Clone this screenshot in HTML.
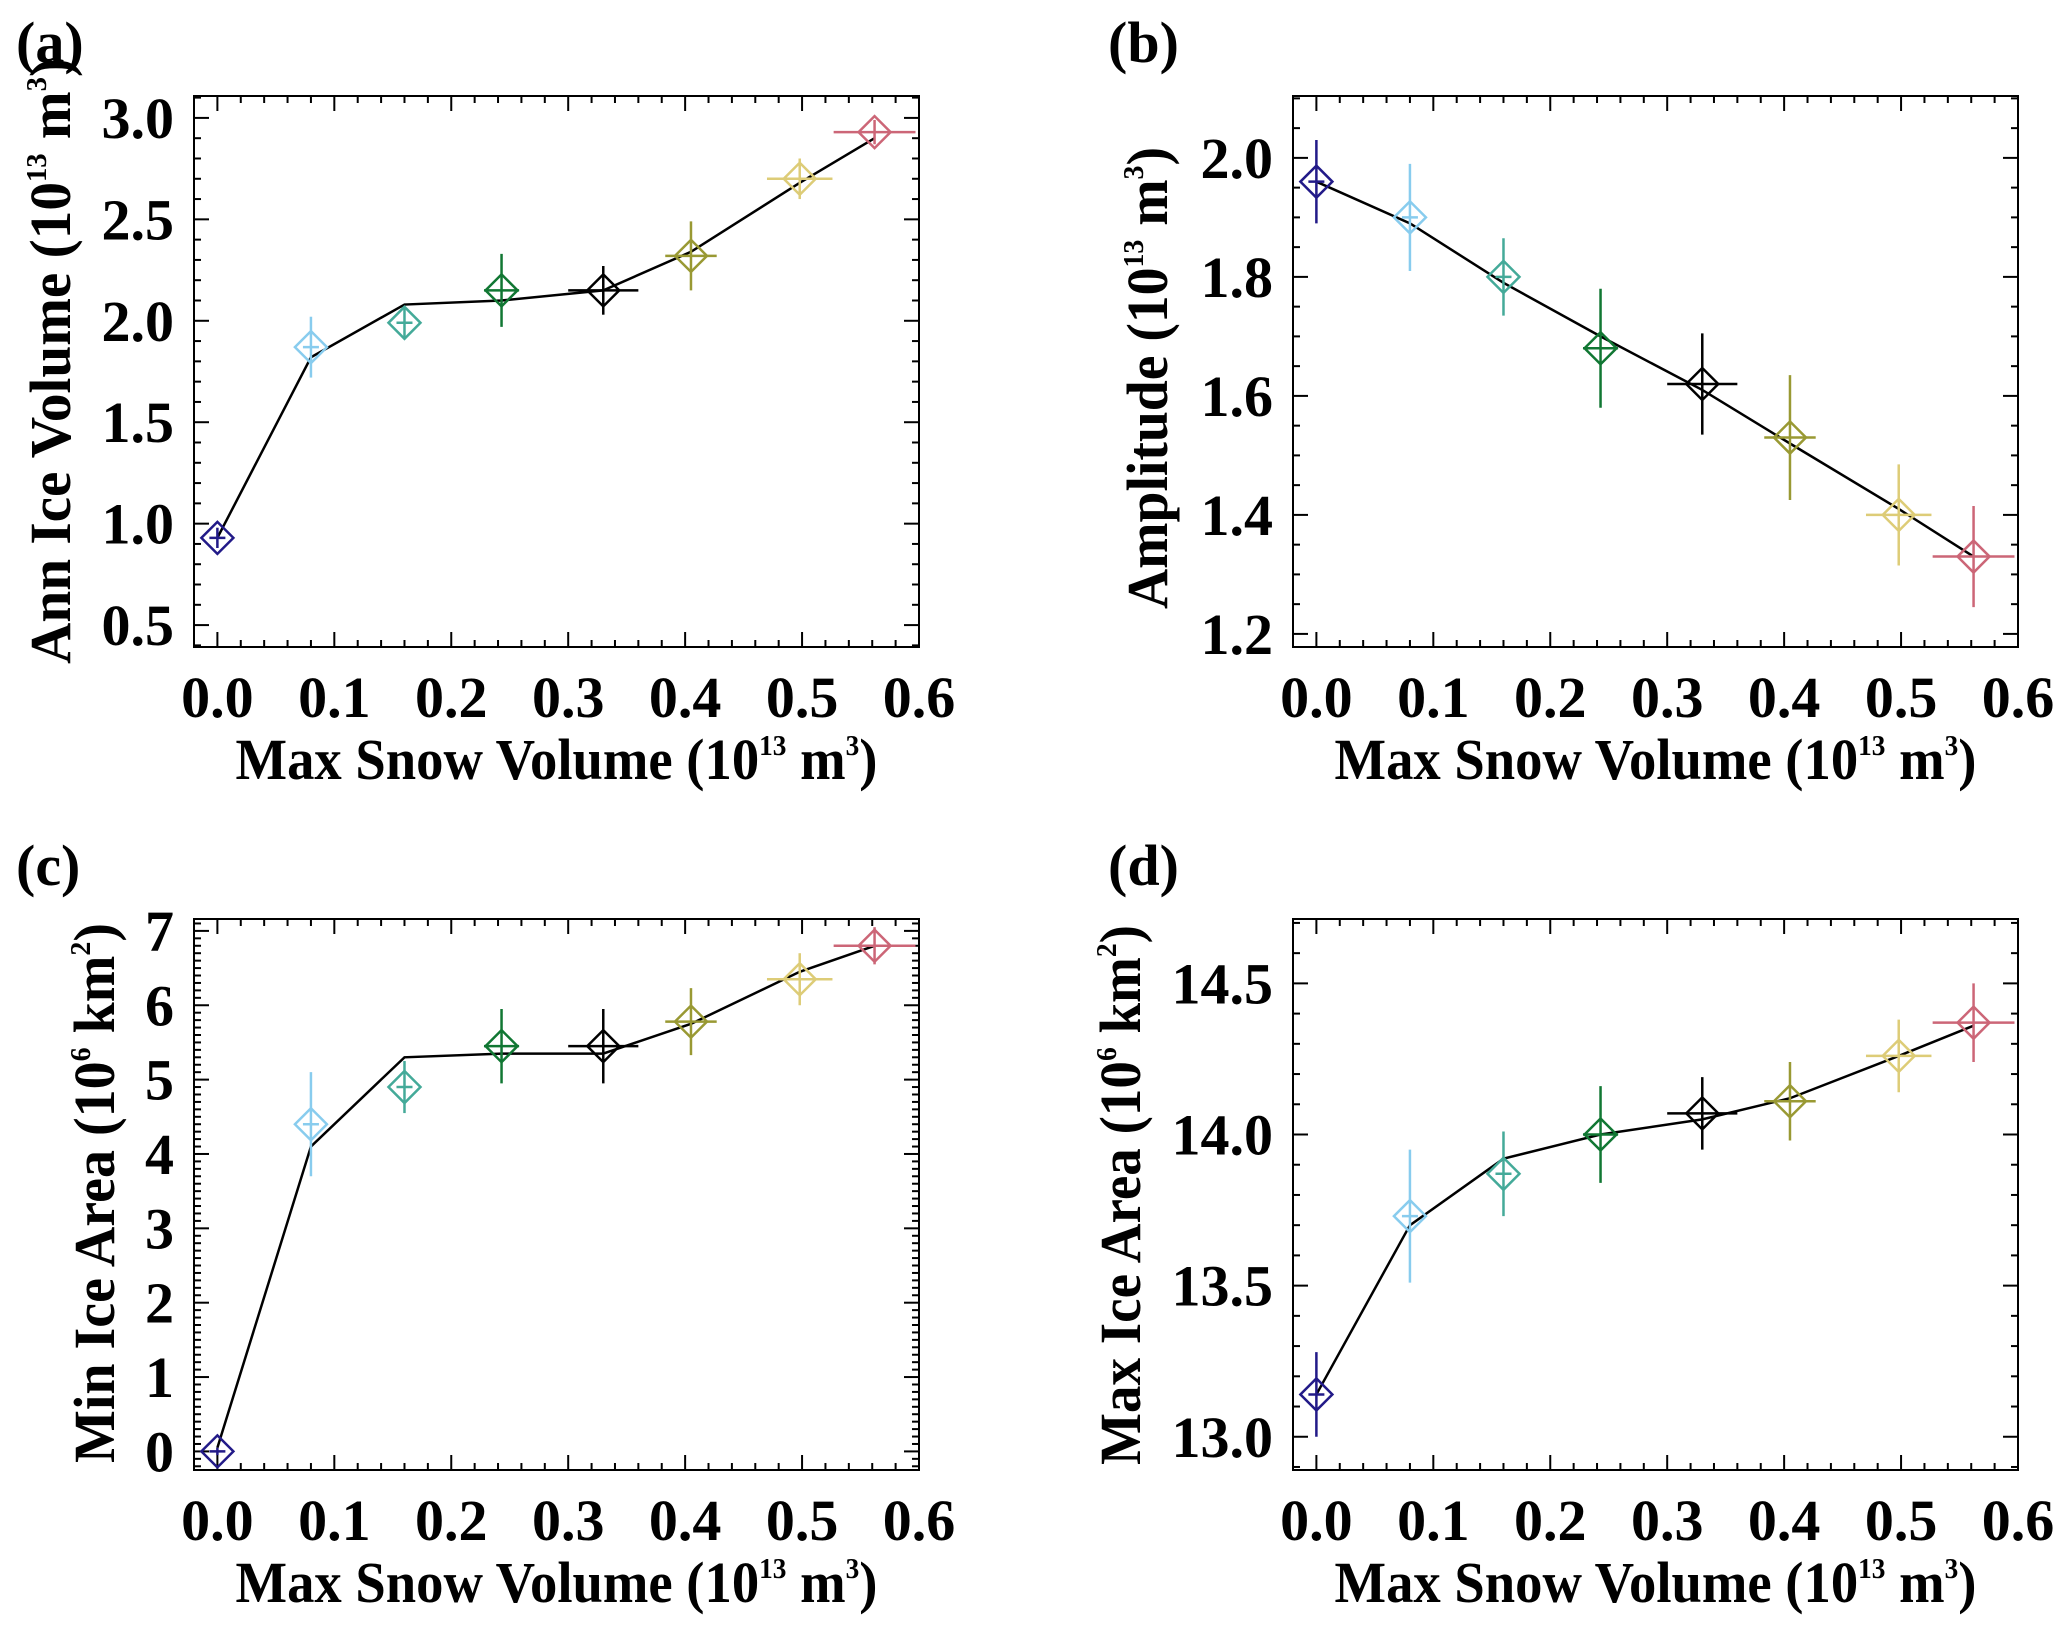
<!DOCTYPE html>
<html><head><meta charset="utf-8"><style>
html,body{margin:0;padding:0;background:#fff;}
svg{display:block;font-family:"Liberation Serif",serif;font-weight:bold;}
</style></head><body>
<svg id="fig" width="2067" height="1628" viewBox="0 0 2067 1628" xmlns="http://www.w3.org/2000/svg"></svg>
<script>
const xSnow = [0.0, 0.08, 0.16, 0.243, 0.33, 0.405, 0.498, 0.562];
const xErr = [0.0, 0.005, 0.005, 0.015, 0.03, 0.022, 0.028, 0.035];
const colors = ["#221a88","#88ccee","#44aa99","#117733","#000000","#999933","#ddcc77","#cc6677"];
const xTicks = ["0.0","0.1","0.2","0.3","0.4","0.5","0.6"];

const aPts = [0.93, 1.87, 1.99, 2.15, 2.15, 2.32, 2.70, 2.93];
const aLine = [0.93, 1.82, 2.08, 2.10, 2.15, 2.34, 2.68, 2.90];
const aErr = [0.05, 0.15, 0.08, 0.18, 0.12, 0.17, 0.10, 0.06];
const aTicks = ["0.5","1.0","1.5","2.0","2.5","3.0"];

const bPts = [1.96, 1.90, 1.80, 1.68, 1.62, 1.53, 1.40, 1.33];
const bLine = [1.96, 1.89, 1.79, 1.70, 1.61, 1.52, 1.41, 1.33];
const bErr = [0.07, 0.09, 0.065, 0.10, 0.085, 0.105, 0.085, 0.085];
const bTicks = ["1.2","1.4","1.6","1.8","2.0"];

const cPts = [0.0, 4.4, 4.9, 5.45, 5.45, 5.78, 6.35, 6.8];
const cLine = [0.05, 4.1, 5.3, 5.35, 5.35, 5.75, 6.45, 6.8];
const cErr = [0.05, 0.7, 0.35, 0.5, 0.5, 0.45, 0.35, 0.25];
const cTicks = ["0","1","2","3","4","5","6","7"];

const dPts = [13.14, 13.73, 13.87, 14.0, 14.07, 14.11, 14.26, 14.37];
const dLine = [13.14, 13.70, 13.92, 14.0, 14.05, 14.12, 14.26, 14.36];
const dErr = [0.14, 0.22, 0.14, 0.16, 0.12, 0.13, 0.12, 0.13];
const dTicks = ["13.0","13.5","14.0","14.5"];

const NS="http://www.w3.org/2000/svg";
const svg=document.getElementById('fig');
function mk(tag,attrs,parent){const e=document.createElementNS(NS,tag);for(const k in attrs)e.setAttribute(k,attrs[k]);(parent||svg).appendChild(e);return e;}

const W=725,H=551;
function panel(cfg){
  const g=mk('g',{transform:`translate(${cfg.ox},${cfg.oy})`});
  
  
  const xmin=-0.02,xmax=0.6;
  const X=v=>(v-xmin)/(xmax-xmin)*W;
  const Y=v=>H-(v-cfg.ymin)/(cfg.ymax-cfg.ymin)*H;
  const fr=mk('rect',{x:0,y:0,width:W,height:H,fill:'none',stroke:'#000','stroke-width':2},g);
  
  
  for(let i=0;i<=30;i++){const v=i*0.02;const px=X(v);const maj=i%5===0;const L=maj?15:7;
    mk('line',{x1:px,y1:H,x2:px,y2:H-L,stroke:'#000','stroke-width':2},g);
    mk('line',{x1:px,y1:0,x2:px,y2:L,stroke:'#000','stroke-width':2},g);}
  xTicks.forEach((t,i)=>{const tx=mk('text',{x:X(i*0.1),y:H+70,'text-anchor':'middle','font-size':58},g);tx.textContent=t;
    
    });
  const n=Math.round((cfg.ymax-cfg.ymin)/cfg.minor)+2;
  const start=Math.ceil(cfg.ymin/cfg.minor-1e-6)*cfg.minor;
  for(let k=0;k<n;k++){const v=start+k*cfg.minor;if(v>cfg.ymax+1e-9)break;const py=Y(v);
    const maj=Math.abs(v/cfg.major-Math.round(v/cfg.major))<1e-6;const L=maj?15:7;
    mk('line',{x1:0,y1:py,x2:L,y2:py,stroke:'#000','stroke-width':2},g);
    mk('line',{x1:W,y1:py,x2:W-L,y2:py,stroke:'#000','stroke-width':2},g);}
  cfg.ticks.forEach(t=>{const ty=mk('text',{x:-20,y:Y(parseFloat(t))+20,'text-anchor':'end','font-size':58},g);ty.textContent=t;
    
    });
  const xt=mk('text',{x:W/2,y:H+132,'text-anchor':'middle','font-size':58,textLength:642,lengthAdjust:'spacingAndGlyphs'},g);
  xt.innerHTML='Max Snow Volume (10<tspan font-size="29" dy="-24">13</tspan><tspan dy="24"> m</tspan><tspan font-size="29" dy="-24">3</tspan><tspan dy="24">)</tspan>';
  
  
  const yt=mk('text',{transform:`translate(${cfg.ytx},${cfg.ytc}) rotate(-90)`,'text-anchor':'middle','font-size':58,textLength:cfg.ylen,lengthAdjust:'spacingAndGlyphs'},g);
  yt.innerHTML=cfg.ytitle;
  
  
  const pl=mk('text',{x:cfg.plx,y:-34,'font-size':58},g);pl.textContent='('+cfg.id+')';
  
  
  const ln=mk('polyline',{points:xSnow.map((x,i)=>X(x)+','+Y(cfg.line[i])).join(' '),fill:'none',stroke:'#000','stroke-width':2.5},g);
  
  
  xSnow.forEach((x,i)=>{const px=X(x),py=Y(cfg.pts[i]);const c=colors[i];
    const pg=mk('g',{stroke:c,'stroke-width':2.5,fill:'none'},g);
    
    
    mk('line',{x1:px,y1:Y(cfg.pts[i]+cfg.err[i]),x2:px,y2:Y(cfg.pts[i]-cfg.err[i])},pg);
    const ex=Math.max(X(x+xErr[i])-px,8);
    mk('line',{x1:px-ex,y1:py,x2:px+ex,y2:py},pg);
    const s=16;
    mk('polygon',{points:`${px},${py-s} ${px+s},${py} ${px},${py+s} ${px-s},${py}`},pg);
  });
}
const sup=(a)=>`<tspan font-size="29" dy="-24">${a}</tspan><tspan dy="24">`;
panel({id:'a',ox:194,oy:96,ymin:0.392,ymax:3.108,major:0.5,minor:0.1,ticks:aTicks,pts:aPts,line:aLine,err:aErr,ytx:-124,ytc:265,ylen:606,plx:-178,
  ytitle:'Ann Ice Volume (10'+sup('13')+' m</tspan>'+sup('3')+')</tspan>'});
panel({id:'b',ox:1293,oy:96,ymin:1.178,ymax:2.104,major:0.2,minor:0.05,ticks:bTicks,pts:bPts,line:bLine,err:bErr,ytx:-126,ytc:282,ylen:462,plx:-185,
  ytitle:'Amplitude (10'+sup('13')+' m</tspan>'+sup('3')+')</tspan>'});
panel({id:'c',ox:194,oy:919,ymin:-0.25,ymax:7.16,major:1,minor:0.1,ticks:cTicks,pts:cPts,line:cLine,err:cErr,ytx:-80,ytc:274,ylen:540,plx:-178,
  ytitle:'Min Ice Area (10'+sup('6')+' km</tspan>'+sup('2')+')</tspan>'});
panel({id:'d',ox:1293,oy:919,ymin:12.89,ymax:14.713,major:0.5,minor:0.1,ticks:dTicks,pts:dPts,line:dLine,err:dErr,ytx:-153,ytc:276,ylen:540,plx:-185,
  ytitle:'Max Ice Area (10'+sup('6')+' km</tspan>'+sup('2')+')</tspan>'});
</script>
</body></html>
